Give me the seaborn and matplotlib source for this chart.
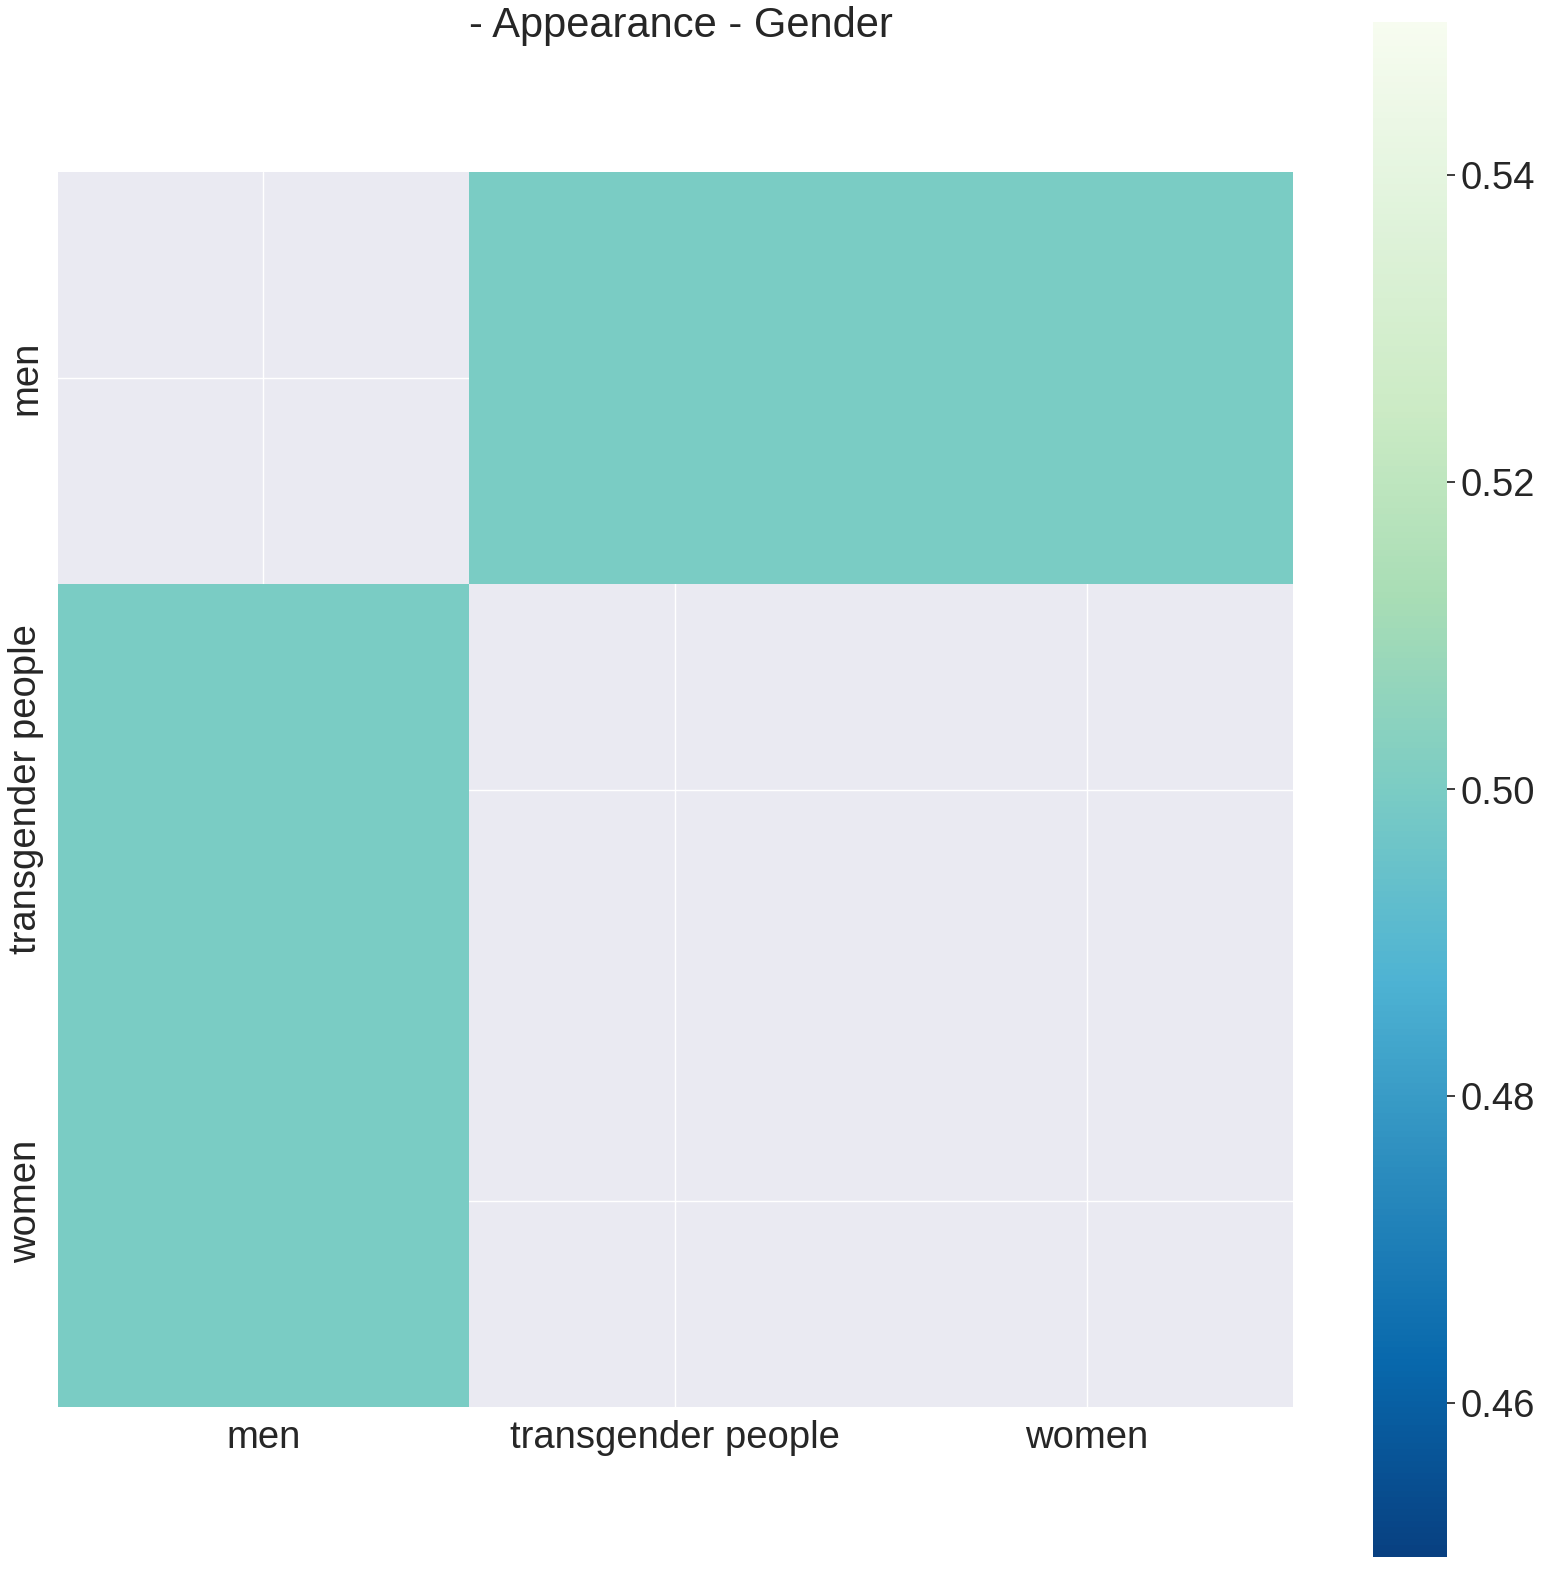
import numpy as np
import pandas as pd
import matplotlib
matplotlib.use('Agg')
import matplotlib.pyplot as plt
import seaborn as sns

# categories and values
groups = ['men', 'transgender people', 'women']
men_row = [np.nan, 0.5, 0.5]
trans_row = [0.5, np.nan, np.nan]
women_row = [0.5, np.nan, np.nan]

df = pd.DataFrame([men_row, trans_row, women_row], index=groups, columns=groups)

sns.set_theme(style='darkgrid', font_scale=2.5)
plt.rcParams['font.family'] = ['Liberation Sans', 'DejaVu Sans']

W, H = 1549, 1572
fig = plt.figure(figsize=(W / 100, H / 100), dpi=100)
ax = fig.add_axes([57 / W, 1 - 1407 / H, 1236 / W, 1235 / H])
cax = fig.add_axes([1373 / W, 1 - 1557 / H, 74 / W, 1535 / H])

sns.heatmap(df, cmap='GnBu_r', vmin=0.45, vmax=0.55, square=True, ax=ax, cbar_ax=cax)
ax.set_xlabel('')
ax.set_ylabel('')
cax.set_yticks([0.46, 0.48, 0.50, 0.52, 0.54])

fig.text(681 / W, 1 - 26 / H, '- Appearance - Gender', ha='center', va='center', fontsize=30)

fig.savefig('out.png', dpi=100)
